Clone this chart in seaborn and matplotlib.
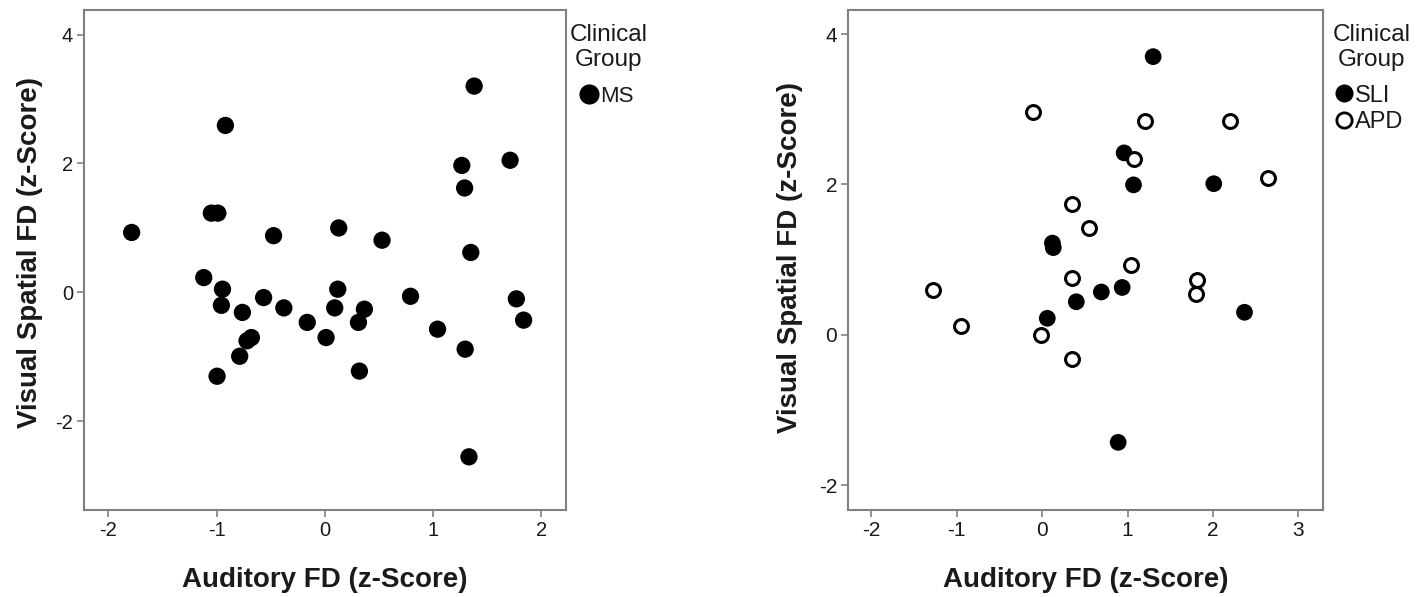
import matplotlib
matplotlib.use("Agg")
import matplotlib.pyplot as plt
import seaborn as sns
import pandas as pd
from matplotlib.lines import Line2D

# ---- data ----
ms_x = [-1.786, -0.92, -1.05, -0.99, -0.475, 0.127, 0.527, 1.264, 1.29, 1.378, 1.71, 1.347,
        -1.12, -0.947, -0.957, -0.763, -0.567, -0.38, -0.72, -0.68, -0.788, -0.997, -0.164,
        0.01, 0.118, 0.09, 0.364, 0.309, 0.318, 0.79, 1.04, 1.295, 1.33, 1.768, 1.835]
ms_y = [0.93, 2.59, 1.23, 1.23, 0.88, 1.0, 0.81, 1.97, 1.62, 3.2, 2.05, 0.62,
        0.23, 0.05, -0.2, -0.31, -0.08, -0.24, -0.75, -0.70, -0.99, -1.30, -0.465,
        -0.70, 0.05, -0.24, -0.26, -0.465, -1.22, -0.06, -0.57, -0.88, -2.55, -0.10, -0.43]

sli_x = [1.30, 0.96, 1.07, 2.01, 0.12, 0.13, 0.06, 0.40, 0.693, 0.937, 2.37, 0.89]
sli_y = [3.70, 2.42, 1.995, 2.01, 1.22, 1.16, 0.22, 0.44, 0.57, 0.63, 0.30, -1.43]

apd_x = [-0.105, 1.20, 2.20, 1.08, 2.65, 0.344, 0.547, 1.04, -1.28, -0.955, -0.015, 0.344, 0.344, 1.81, 1.80]
apd_y = [2.96, 2.84, 2.85, 2.34, 2.09, 1.74, 1.42, 0.93, 0.60, 0.124, 0.0, 0.75, -0.32, 0.73, 0.54]

left_xticks = [-2, -1, 0, 1, 2]
left_yticks = [-2, 0, 2, 4]
right_xticks = [-2, -1, 0, 1, 2, 3]
right_yticks = [-2, 0, 2, 4]

x_label = "Auditory FD (z-Score)"
y_label = "Visual Spatial FD (z-Score)"
legend_title = "Clinical\nGroup"
left_groups = ["MS"]
right_groups = ["SLI", "APD"]

sns.set_theme(style="white")
plt.rcParams['font.family'] = ['Liberation Sans', 'DejaVu Sans']

fig = plt.figure(figsize=(14.17, 5.97), dpi=100)
ax1 = fig.add_axes([0.0593, 0.1457, 0.3401, 0.8375])
ax2 = fig.add_axes([0.5987, 0.1457, 0.3350, 0.8375])

df_ms = pd.DataFrame({"x": ms_x, "y": ms_y})
df_sli = pd.DataFrame({"x": sli_x, "y": sli_y})
df_apd = pd.DataFrame({"x": apd_x, "y": apd_y})

sns.scatterplot(data=df_ms, x="x", y="y", ax=ax1, s=155, color="black",
                edgecolor="none", linewidth=0, legend=False)
sns.scatterplot(data=df_sli, x="x", y="y", ax=ax2, s=145, color="black",
                edgecolor="none", linewidth=0, legend=False)
sns.scatterplot(data=df_apd, x="x", y="y", ax=ax2, s=100, facecolor="white",
                edgecolor="black", linewidth=2.2, legend=False)

spine_col = "#808080"
txt_col = "#1a1a1a"
settings = [
    (ax1, left_xticks, left_yticks, (-2.226, 2.226), (-3.375, 4.38), 14.5, -0.085, 0.515),
    (ax2, right_xticks, right_yticks, (-2.27, 3.29), (-2.33, 4.32), 15, -0.095, 0.505),
]
for ax, xt, yt, xl, yl, tfs, ylx, yly in settings:
    ax.set_xlim(*xl)
    ax.set_ylim(*yl)
    ax.set_xticks(xt)
    ax.set_yticks(yt)
    ax.set_xticklabels([str(v) for v in xt])
    ax.set_yticklabels([str(v) for v in yt])
    for sp in ax.spines.values():
        sp.set_visible(True)
        sp.set_color(spine_col)
        sp.set_linewidth(1.5)
    ax.tick_params(axis="both", which="major", direction="out", length=5, width=1.2,
                   color=spine_col, labelsize=tfs, labelcolor=txt_col, pad=3,
                   bottom=True, left=True)
    ax.set_xlabel(x_label, fontsize=20, fontweight="bold", color=txt_col)
    ax.set_ylabel(y_label, fontsize=20, fontweight="bold", color=txt_col)
    ax.xaxis.set_label_coords(0.5, -0.114)
    ax.yaxis.set_label_coords(ylx, yly)
    ax.grid(False)

# legend titles
ax1.text(1.089, 0.972, legend_title, transform=ax1.transAxes, ha="center", va="top",
         multialignment="center", fontsize=17.5, color=txt_col)
ax2.text(1.103, 0.972, legend_title, transform=ax2.transAxes, ha="center", va="top",
         multialignment="center", fontsize=17.5, color=txt_col)

h_ms = [Line2D([], [], marker="o", linestyle="none", markersize=14.5,
               markerfacecolor="black", markeredgecolor="black", markeredgewidth=0)]
leg1 = ax1.legend(h_ms, left_groups, loc="upper left",
                  bbox_to_anchor=(1.029, 0.848), frameon=False, fontsize=16,
                  handletextpad=0.1, handlelength=0.8, borderpad=0,
                  borderaxespad=0, labelspacing=0)
for t in leg1.get_texts():
    t.set_color(txt_col)

h_r = [Line2D([], [], marker="o", linestyle="none", markersize=13,
              markerfacecolor="black", markeredgecolor="black", markeredgewidth=0),
       Line2D([], [], marker="o", linestyle="none", markersize=11,
              markerfacecolor="white", markeredgecolor="black", markeredgewidth=2.0)]
leg2 = ax2.legend(h_r, right_groups, loc="upper left",
                  bbox_to_anchor=(1.0253, 0.851), frameon=False, fontsize=17,
                  handletextpad=0.1, handlelength=0.75, borderpad=0,
                  borderaxespad=0, labelspacing=0.2)
for t in leg2.get_texts():
    t.set_color(txt_col)

fig.savefig("out.png", dpi=100)
